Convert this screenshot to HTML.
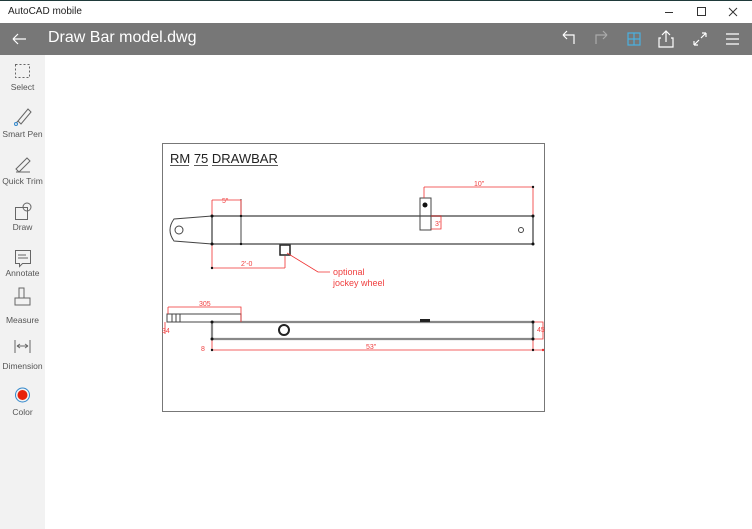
<!DOCTYPE html>
<html><head><style>
body{margin:0;width:752px;height:529px;overflow:hidden;font-family:"Segoe UI","Liberation Sans",sans-serif;background:#fff;position:relative}
.title{position:absolute;left:0;top:0;width:752px;height:23px;background:#fff;border-top:1px solid #1f3a3a;box-sizing:border-box}
.title span{position:absolute;left:8px;top:5px;font-size:10px;color:#222}
.tb{position:absolute;left:0;top:23px;width:752px;height:32px;background:#777}
.tb .t{position:absolute;left:48px;top:6px;font-size:16px;color:#fff}
.side{position:absolute;left:0;top:55px;width:45px;height:474px;background:#f2f2f2}
.side div{position:absolute;width:45px;text-align:center;font-size:8.5px;color:#555}
</style></head><body>
<div class="title"><span>AutoCAD mobile</span>
<svg width="752" height="23" style="position:absolute;left:0;top:0"><g stroke="#333" fill="none" stroke-width="1"><line x1="665" y1="11.5" x2="673" y2="11.5"/><rect x="697.5" y="6.5" width="8" height="8"/><path d="M729 7l8 8M737 7l-8 8"/></g></svg></div>
<div class="tb"><div class="t">Draw Bar model.dwg</div>
<svg width="752" height="32" style="position:absolute;left:0;top:0"><g stroke="#fff" fill="none" stroke-width="1.2">
<path d="M13 16h13M13 16l5-5M13 16l5 5"/>
<path d="M563 12h11v9M563 12l4-4M563 12l4 4"/>
<path d="M607 12h-11v9M607 12l-4-4M607 12l-4 4" stroke="#aaa"/>
<path d="M628 10h12v12h-12zM634 10v12M628 16h12" stroke="#4ab0e0"/>
<path d="M661 15h-2v9h14v-9h-2M666 8v11M662 12l4-4 4 4"/>
<path d="M694 22l5-5M694 22v-4M694 22h4M706 10l-5 5M706 10v4M706 10h-4"/>
<path d="M726 11h13M726 16h13M726 21h13"/></g></svg></div>
<div class="side">
<svg width="45" height="380" style="position:absolute;left:0;top:0"><g fill="none" stroke="#666" stroke-width="1">
<rect x="15.5" y="9.5" width="14" height="13" stroke-dasharray="2 2"/>
<path d="M18 66l10-12 3 3-10 12zM16 68l2-2"/><circle cx="16" cy="69" r="1.5" stroke="#38c"/>
<path d="M16 114l11-11 3 3-11 11zM16 117h14"/>
<rect x="15.5" y="152.5" width="12" height="12"/><circle cx="27" cy="152" r="4"/>
<path d="M15.5 195.5h15v13h-8l-3 3v-3h-4z M18 200h8M18 203h10"/>
<path d="M19 243v-10h5v10M15 243h15v7h-15z"/>
<path d="M15 285v13M30 285v13M17 291h11M17 291l3-2M17 291l3 2M28 291l-3-2M28 291l-3 2"/>
<circle cx="22.5" cy="340" r="7" stroke="#38c"/></g>
<circle cx="22.5" cy="340" r="5" fill="#e8200a"/></svg>
<div style="top:27px">Select</div><div style="top:74px">Smart Pen</div><div style="top:121px">Quick Trim</div><div style="top:167px">Draw</div><div style="top:213px">Annotate</div><div style="top:260px">Measure</div><div style="top:306px">Dimension</div><div style="top:352px">Color</div>
</div>
<svg width="752" height="529" style="position:absolute;left:0;top:0" font-family="Liberation Sans, sans-serif">
<rect x="162.5" y="143.5" width="382" height="268" fill="#fff" stroke="#777"/>
<text x="170" y="163" font-size="13" fill="#222">RM 75 DRAWBAR</text>
<path d="M170 165.5h19M194 165.5h14M212 165.5h66" stroke="#222" stroke-width="0.8"/>
<g fill="none" stroke="#444" stroke-width="1">
<rect x="212" y="216" width="321" height="28" stroke="#888" stroke-width="2"/>
<path d="M212 216l-38 3q-8 11 0 22l38 3"/><circle cx="179" cy="230" r="4"/>
<line x1="241" y1="199" x2="241" y2="244"/>
<rect x="420" y="198" width="11" height="32"/><circle cx="521" cy="230" r="2.5"/>
<rect x="280" y="245" width="10" height="10" stroke-width="1.5" stroke="#222"/>
<rect x="167" y="314" width="74" height="8"/><path d="M172 314v8M176 314v8M180 314v8"/>
<path d="M212 322h321M212 339h321M212 322v17M533 322v17" stroke="#888" stroke-width="2.2"/>
<circle cx="284" cy="330" r="5" stroke-width="2" stroke="#222"/>
</g>
<rect x="420" y="319" width="10" height="3" fill="#222"/>
<circle cx="425" cy="205" r="2.5" fill="#111"/>
<g fill="none" stroke="#f03030" stroke-width="0.8">
<path d="M212 200h29M212 200v16M241 200v16"/>
<path d="M212 268h73M212 244v24M285 256v12"/>
<path d="M424 187h109M424 187v11M533 187v29"/>
<path d="M431 216h10v13h-10"/>
<path d="M287 253l31 19h12"/>
<path d="M168 307h73v15M168 307v7"/>
<path d="M165 322v12"/>
<path d="M533 322h10v17h-10"/>
<path d="M212 350h331M212 339v11M533 339v11"/>
</g>
<g fill="#f04040" font-size="7">
<text x="222" y="203">5"</text><text x="241" y="266">2'-0</text><text x="474" y="186">10"</text>
<text x="199" y="306">305</text><text x="366" y="349">53"</text><text x="201" y="351">8</text>
<text x="162" y="333">34</text><text x="435" y="226">3"</text><text x="537" y="332">45</text>
<text x="333" y="275" font-size="9">optional</text><text x="333" y="286" font-size="9">jockey wheel</text>
</g>
<g fill="#111"><circle cx="212" cy="216" r="1.5"/><circle cx="212" cy="244" r="1.5"/><circle cx="533" cy="216" r="1.5"/><circle cx="533" cy="244" r="1.5"/><circle cx="241" cy="216" r="1.2"/><circle cx="241" cy="244" r="1.2"/><circle cx="212" cy="268" r="1.2"/><circle cx="533" cy="187" r="1.2"/><circle cx="212" cy="322" r="1.5"/><circle cx="212" cy="339" r="1.5"/><circle cx="533" cy="322" r="1.5"/><circle cx="533" cy="339" r="1.5"/><circle cx="212" cy="350" r="1.2"/><circle cx="533" cy="350" r="1.2"/><circle cx="543" cy="350" r="1.2" fill="#f03030"/></g>
</svg>
</body></html>
